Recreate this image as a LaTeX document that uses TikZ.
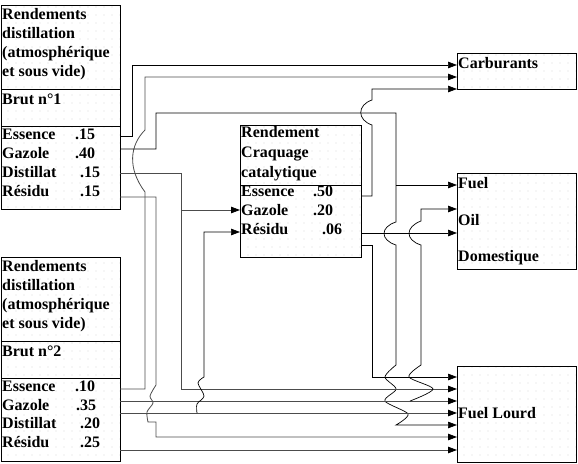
\documentclass[tikz,border=0pt]{standalone}
\usepackage{fontspec}
\setmainfont{Liberation Serif}
\usetikzlibrary{arrows.meta, patterns.meta}
\tikzset{
    panel/.style={
        draw,
        line width=0.7pt,
        pattern={Dots[distance=8pt, radius=0.45pt]},
        pattern color=black!45,
        anchor=north west,
        inner sep=0
    },
    txt/.style={
        anchor=base west,
        inner sep=0,
        font=\bfseries\fontsize{16}{19}\selectfont
    },
    flow/.style={draw, line width=0.7pt},
    flowg/.style={draw=black!70, line width=0.8pt},
    tip/.style={-{Triangle[length=9pt, width=6.5pt, color=black]}}
}

\begin{document}
\begin{tikzpicture}[x=1pt, y=-1pt]
\useasboundingbox (0,0) rectangle (578,463);

% boites
\node[panel, minimum width=119pt, minimum height=204pt] (brut1) at (1,5) {};
\node[panel, minimum width=119pt, minimum height=204pt] (brut2) at (1,257) {};
\node[panel, minimum width=121pt, minimum height=132pt] (craq) at (240,125) {};
\node[panel, minimum width=119pt, minimum height=36pt] (carb) at (457,53) {};
\node[panel, minimum width=119pt, minimum height=96pt] (fuel) at (457,173) {};
\node[panel, minimum width=119pt, minimum height=96pt] (lourd) at (457,366) {};

% separations
\draw[flow] (1,89) -- (120,89);
\draw[flow] (1,126) -- (120,126);
\draw[flow] (1,341) -- (120,341);
\draw[flow] (1,378) -- (120,378);
\draw[flow] (240,185) -- (361,185);

% textes des bruts
\foreach \b/\dy in {1/0, 2/252} {
    \foreach \t/\yy [count=\i] in {Rendements/19, distillation/38, {(atmosphérique}/57, {et sous vide)}/76}
        \node[txt] (b\b h\i) at (2,\yy+\dy) {\t};
    \node[txt] (b\b n) at (2,104+\dy) {Brut n°\b};
}
\foreach \t/\v/\vx/\yy [count=\i] in {Essence/.15/75/139, Gazole/.40/75/158, Distillat/.15/80/177, Résidu/.15/80/196} {
    \node[txt] (b1l\i) at (2,\yy) {\t};
    \node[txt] (b1v\i) at (\vx,\yy) {\v};
}
\foreach \t/\v/\vx/\yy [count=\i] in {Essence/.10/75/391, Gazole/.35/76/410, Distillat/.20/80/428, Résidu/.25/80/447} {
    \node[txt] (b2l\i) at (2,\yy) {\t};
    \node[txt] (b2v\i) at (\vx,\yy) {\v};
}

% textes du craquage
\node[txt] (ch1) at (241,137) {Rendement};
\node[txt] (ch2) at (241,157) {Craquage};
\node[txt] (ch3) at (241,177) {catalytique};
\foreach \t/\v/\vx/\yy [count=\i] in {Essence/.50/313/196, Gazole/.20/313/215, Résidu/.06/322/234} {
    \node[txt] (cl\i) at (241,\yy) {\t};
    \node[txt] (cv\i) at (\vx,\yy) {\v};
}

% textes des produits
\node[txt] (carbt) at (458,68) {Carburants};
\node[txt] (fuelt1) at (458,188) {Fuel};
\node[txt] (fuelt2) at (458,225) {Oil};
\node[txt] (fuelt3) at (458,261) {Domestique};
\node[txt] (lourdt) at (458,418) {Fuel Lourd};

% points d'entree et de sortie
\coordinate (b1e) at (120,136);
\coordinate (b1g) at (120,149);
\coordinate (b1d) at (120,173);
\coordinate (b1r) at (120,197);
\coordinate (b2e) at (120,389);
\coordinate (b2g) at (120,401);
\coordinate (b2d) at (120,413);
\coordinate (b2r) at (120,450);
\coordinate (cg) at (240,210);
\coordinate (cr) at (240,232);
\coordinate (ce) at (361,196);
\coordinate (cro) at (361,233);
\coordinate (cx) at (361,245);
\coordinate (c1) at (457,65);
\coordinate (c2) at (457,77);
\coordinate (c3) at (457,89);
\coordinate (f1) at (457,185);
\coordinate (f2) at (457,209);
\coordinate (f3) at (457,233);
\foreach \yy [count=\i] in {377, 389, 401, 413, 425, 437, 450}
    \coordinate (fl\i) at (457,\yy);
\coordinate (j1) at (396,185);
\coordinate (j2) at (181,210);
\coordinate (j3) at (410,401);
\coordinate (j4) at (197,413);

% flux
\draw[flow, tip] (b1e) -- (132,136) -- (132,65) -- (c1);
\draw[flowg, tip] (b2e) -- (145,389) -- (145,192) .. controls (127,168) and (130,145) .. (145,130) -- (145,77) -- (c2);
\draw[flow, tip] (b1g) -- (156,149) -- (156,113) -- (396,113) -- (396,222)
    .. controls (380,227) and (380,240) .. (396,245) -- (396,365)
    -- plot[smooth] coordinates {(396,365) (385,377) (396,389) (385,401) (408,414) (396,425)} -- (fl5);
\draw[flow, tip] (j1) -- (f1);
\draw[flowg, tip] (b1d) -- (181,173) -- (181,389) -- (fl2);
\draw[flowg, tip] (j2) -- (cg);
\draw[flowg, tip] (b1r) -- (156,197) -- (156,385)
    -- plot[smooth] coordinates {(156,385) (150,396) (153,403) (147,412) (148,422)} -- (156,422) -- (156,437) -- (fl6);
\draw[flowg, tip] (b2g) -- (fl3);
\draw[flow, tip] (j3) -- plot[smooth] coordinates {(410,401) (433,389) (409,377) (421,365)} -- (421,245)
    .. controls (405,240) and (405,227) .. (421,221) -- (421,209) -- (f2);
\draw[flowg, tip] (b2d) -- (fl4);
\draw[flow, tip] (j4) -- plot[smooth] coordinates {(197,413) (197,404) (204,396) (198,383) (204,377)} -- (204,232) -- (cr);
\draw[flowg, tip] (b2r) -- (fl7);
\draw[flow, tip] (ce) -- (372,196) -- (372,125) .. controls (357,120) and (357,105) .. (372,100) -- (372,89) -- (c3);
\draw[flow, tip] (cro) -- (f3);
\draw[flow, tip] (cx) -- (372,245) -- (372,377) -- (fl1);
\end{tikzpicture}
\end{document}
